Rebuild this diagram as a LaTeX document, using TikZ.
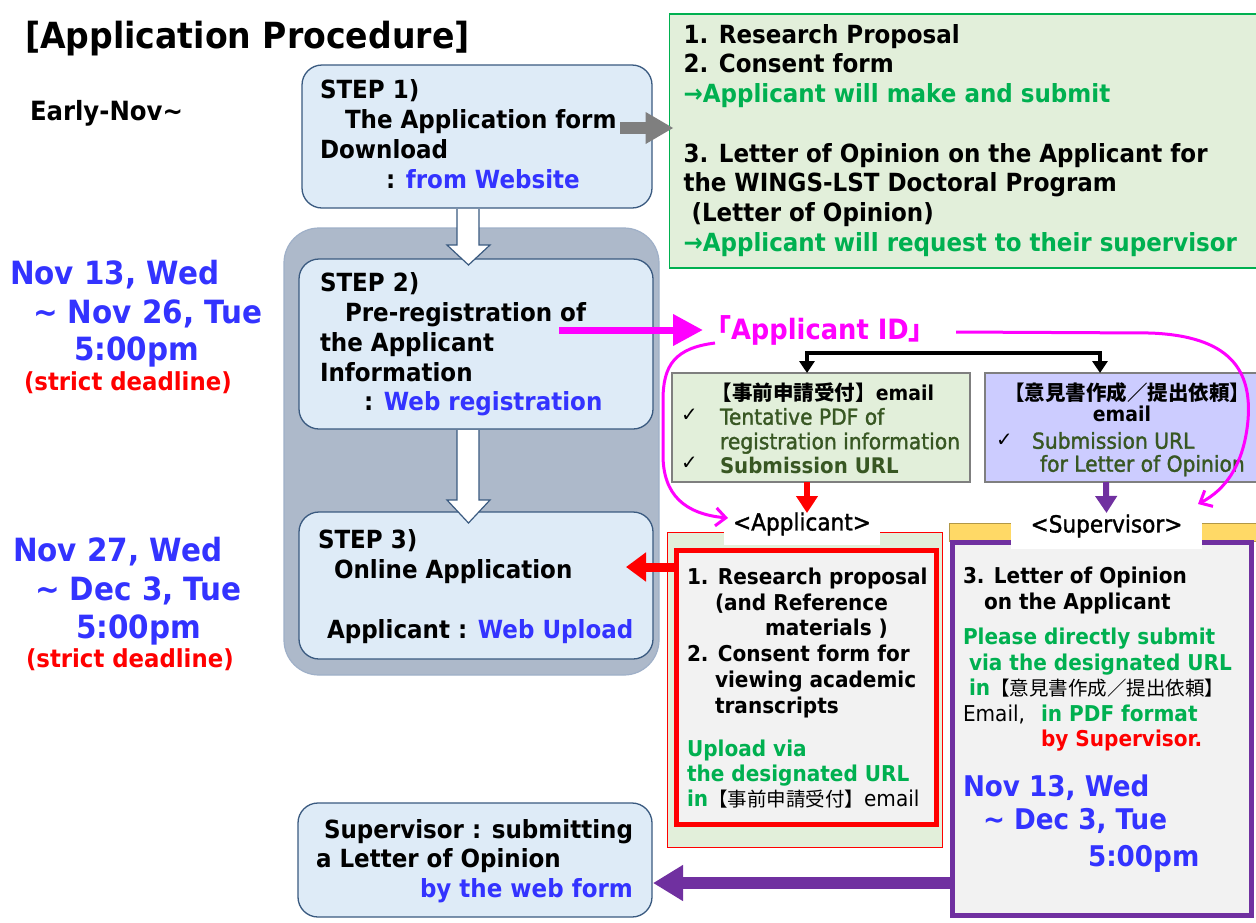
\documentclass[tikz,border=0pt]{standalone}
\usepackage{fontspec}
\setmainfont{DejaVu Sans}[FakeStretch=0.92]
\newfontfamily\cjk{Noto Sans CJK JP}
\newfontfamily\symf{DejaVu Sans}
\newfontfamily\medf{DejaVu Sans}[FakeStretch=0.92,FakeBold=1.5]
\usetikzlibrary{arrows.meta,calc}
\newcommand\myfs[2]{\fontsize{#1}{#2}\selectfont}
\definecolor{boxfill}{HTML}{DEEBF7}
\definecolor{boxline}{HTML}{3A5A80}
\definecolor{grpfill}{HTML}{ADB9CA}
\definecolor{grpline}{HTML}{9FB0C8}
\definecolor{lgreen}{HTML}{E2EFDA}
\definecolor{tgreen}{HTML}{00B050}
\definecolor{dgreen}{HTML}{385723}
\definecolor{tblue}{HTML}{3333FF}
\definecolor{tred}{HTML}{FF0000}
\definecolor{mag}{HTML}{FF00FF}
\definecolor{purp}{HTML}{7030A0}
\definecolor{lpurp}{HTML}{CCCCFF}
\definecolor{ylw}{HTML}{FFD966}
\definecolor{lgray}{HTML}{F2F2F2}
\definecolor{arrgray}{HTML}{7F7F7F}
\definecolor{emline}{HTML}{7F7F7F}
\tikzset{
  tx/.style={inner sep=0pt, outer sep=0pt, anchor=north west, align=left, font=\bfseries\myfs{25}{30}},
  stepbox/.style={draw=boxline, fill=boxfill, line width=1.3pt, rounded corners=20pt, anchor=north west, inner sep=0pt, outer sep=0pt},
  warrow/.style={fill=white, draw=boxline, line width=1.2pt, line join=miter},
  plainbox/.style={anchor=north west, inner sep=0pt, outer sep=0pt},
  datefont/.style={font=\bfseries\myfs{32}{39}, text=tblue},
  redfont/.style={font=\bfseries\myfs{24.8}{28}, text=tred},
  chk/.style={inner sep=0pt, outer sep=0pt, anchor=north west, font=\symf\myfs{19.8}{24}},
  emtxt/.style={tx, font=\medf\myfs{22}{24.5}, text=dgreen},
  emhead/.style={inner sep=0pt, outer sep=0pt, anchor=north, font=\bfseries\myfs{20.5}{24}},
  lab/.style={fill=white, inner sep=0pt, outer sep=0pt, font=\medf\myfs{23.5}{28}},
  magcurve/.style={mag, line width=3pt, -{Straight Barb[length=10pt,width=18pt]}}
}
\begin{document}
\begin{tikzpicture}[x=1pt,y=-1pt]
\fill[white] (0,0) rectangle (1256,922);
\useasboundingbox (0,0) rectangle (1256,922);

% title
\node[tx, font=\bfseries\myfs{36}{40}] (title) at (25,21) {[Application Procedure]};
\node[tx, font=\bfseries\myfs{26.5}{30}] (early) at (30,100) {Early-Nov\textasciitilde};

% dates left
\node[tx, datefont] (d1a) at (10,260) {Nov 13, Wed};
\node[tx, datefont] (d1b) at (33,300) {\textasciitilde\ Nov 26, Tue};
\node[tx, datefont] (d1c) at (74,337) {5:00pm};
\node[tx, redfont] (d1d) at (24,372) {(strict deadline)};
\node[tx, datefont] (d2a) at (13,537) {Nov 27, Wed};
\node[tx, datefont] (d2b) at (35,577) {\textasciitilde\ Dec 3, Tue};
\node[tx, datefont] (d2c) at (76,615) {5:00pm};
\node[tx, redfont] (d2d) at (26,649) {(strict deadline)};

% group and step boxes
\node[plainbox, draw=grpline, fill=grpfill, line width=1.2pt, rounded corners=35pt, minimum width=375pt, minimum height=447pt] (grp) at (284,228) {};
\node[stepbox, minimum width=350pt, minimum height=143pt] (s1) at (302,65) {};
\node[stepbox, minimum width=354pt, minimum height=170pt] (s2) at (299,259) {};
\node[stepbox, minimum width=354pt, minimum height=147pt] (s3) at (299,512) {};
\node[stepbox, minimum width=354pt, minimum height=114pt] (s4) at (298,803) {};

% white arrows
\filldraw[warrow] ($(s1.south)+(-20,1)$) -- ($(s1.south)+(-20,37)$) -- ($(s1.south)+(-30,37)$) -- ($(s1.south)+(-8.5,57)$) -- ($(s1.south)+(13,37)$) -- ($(s1.south)+(2,37)$) -- ($(s1.south)+(2,1)$);
\filldraw[warrow] ($(s2.south)+(-19,1)$) -- ($(s2.south)+(-19,71)$) -- ($(s2.south)+(-29,71)$) -- ($(s2.south)+(-7.5,94)$) -- ($(s2.south)+(14,71)$) -- ($(s2.south)+(3,71)$) -- ($(s2.south)+(3,1)$);

% step texts
\node[tx] (t1) at (320,80) {STEP 1)\\\hspace*{25pt}The Application form\\Download\\\hspace*{66pt}: \textcolor{tblue}{from Website}};
\node[tx, font=\bfseries\myfs{25}{29.75}] (t2) at (320,273) {STEP 2)\\\hspace*{25pt}Pre-registration of\\the Applicant\\Information\\\hspace*{44pt}: \textcolor{tblue}{Web registration}};
\node[tx] (t3) at (318,530) {STEP 3)\\\hspace*{16pt}Online Application};
\node[tx] (t3b) at (327,619) {Applicant : \textcolor{tblue}{Web Upload}};
\node[tx, font=\bfseries\myfs{25}{29.5}] (t4) at (316,819) {\hspace*{8pt}Supervisor : submitting\\a Letter of Opinion\\\hspace*{104pt}\textcolor{tblue}{by the web form}};

% green document box
\node[plainbox, draw=tgreen, fill=lgreen, line width=1.3pt, minimum width=600pt, minimum height=254pt] (gbox) at (669.5,14) {};
\node[tx, font=\bfseries\myfs{25}{29.7}] (g1) at (683.5,24) {1. Research Proposal\\2. Consent form\\\textcolor{tgreen}{→Applicant will make and submit}};
\node[tx, font=\bfseries\myfs{25}{29.7}] (g2) at (683.5,143) {3. Letter of Opinion on the Applicant for\\the WINGS-LST Doctoral Program\\\hspace*{8pt}(Letter of Opinion)\\\textcolor{tgreen}{→Applicant will request to their supervisor}};
\coordinate (gst) at ($(s1.north east)+(-32,63)$);
\draw[arrgray, line width=12pt, -{Triangle[length=28pt,width=30pt]}] (gst) -- ($(gbox.west |- gst)+(4,0)$);

% email boxes
\node[plainbox, draw=emline, fill=lgreen, line width=1.2pt, minimum width=298pt, minimum height=109pt] (em1) at (672,373) {};
\node[plainbox, draw=emline, fill=lpurp, line width=1.2pt, minimum width=290pt, minimum height=109pt] (em2) at (985,373) {};
\node[emhead] (e1h) at (823,383) {{\cjk 【事前申請受付】}email};
\node[chk] (c1) at (681,409) {✓};
\node[chk] (c2) at (681,457) {✓};
\node[emtxt] (e1t) at (720,408) {Tentative PDF of\\registration information\\{\rmfamily\bfseries\myfs{21.5}{24.5}Submission URL}};
\node[emhead] (e2h) at (1127,383) {{\cjk 【意見書作成／提出依頼】}};
\node[emhead] (e2e) at (1122,406) {email};
\node[chk] (c3) at (996,434) {✓};
\node[emtxt, font=\medf\myfs{22}{23}] (e2t) at (1032,432) {Submission URL\\\hspace*{8pt}for Letter of Opinion};
\draw[line width=3.8pt, {Triangle[length=12pt,width=15pt]}-{Triangle[length=12pt,width=15pt]}] ($(em1.north west)+(135,0)$) -- ++(0,-20) -| ($(em2.north west)+(115,0)$);

% applicant area
\node[plainbox, draw=tred, fill=lgreen, line width=1pt, minimum width=275pt, minimum height=315pt] (aout) at (667.5,532) {};
\node[plainbox, draw=tred, fill=lgray, line width=5pt, minimum width=260.5pt, minimum height=274pt] (ain) at (676,550.5) {};
% supervisor area
\node[plainbox, draw=ylw!70!black, fill=ylw, line width=0.8pt, minimum width=313pt, minimum height=18pt] (ystr) at (949,523) {};
\node[plainbox, draw=purp, fill=lgray, line width=5pt, minimum width=299pt, minimum height=373pt] (pbox) at (952.5,542.5) {};

% labels
\node[lab, minimum width=156pt, minimum height=42pt] (alab) at (802,524) {<Applicant>};
\node[lab, minimum width=191pt, minimum height=46pt] (slab) at (1106.5,526) {<Supervisor>};

% applicant texts
\node[tx, font=\bfseries\myfs{21.8}{25.7}] (a1) at (687,568) {1. Research proposal\\\hspace*{28pt}(and Reference\\\hspace*{78pt}materials )\\2. Consent form for\\\hspace*{28pt}viewing academic\\\hspace*{28pt}transcripts};
\node[tx, font=\bfseries\myfs{21.8}{25}, text=tgreen] (a2) at (687,740) {Upload via\\the designated URL\\in{\color{black}\mdseries{\cjk\myfs{19.5}{25}【事前申請受付】}email}};

% supervisor texts
\node[tx, font=\bfseries\myfs{21.8}{26}] (b1) at (963,567) {3. Letter of Opinion\\\hspace*{21pt}on the Applicant};
\node[tx, font=\bfseries\myfs{21.8}{25.5}, text=tgreen] (b2) at (963,628) {Please directly submit\\\hspace*{6pt}via the designated URL\\\hspace*{6pt}in{\color{black}\mdseries\cjk\myfs{19.5}{25}【意見書作成／提出依頼】}\\{\color{black}\mdseries Email,}\hspace*{16pt}in PDF format\\\hspace*{78pt}{\color{tred}by Supervisor.}};
\node[tx, font=\bfseries\myfs{28.5}{34}, text=tblue] (b3) at (963,775) {Nov 13, Wed};
\node[tx, font=\bfseries\myfs{28.5}{34}, text=tblue] (b4) at (983,808) {\textasciitilde\ Dec 3, Tue};
\node[tx, font=\bfseries\myfs{28.5}{34}, text=tblue] (b5) at (1088,845) {5:00pm};

% applicant ID
\node[inner sep=0pt, outer sep=0pt, anchor=west, text=mag, font=\bfseries\myfs{28}{32}] (aid) at (703,330) {{\cjk 「}Applicant ID{\cjk 」}};
\coordinate (mst) at (559,330);
\draw[mag, line width=7pt, -{Triangle[length=30pt,width=30pt]}] (mst) -- (aid.west);
\coordinate (ml0) at (715,343);
\coordinate (mr0) at (956,332);
\draw[magcurve] (ml0) .. controls (675,348) and (663,365) .. (663,400) -- (663,455) .. controls (663,495) and (685,514) .. ($(alab.west)+(4,-6)$);
\draw[magcurve] (mr0) -- (1150,333) .. controls (1230,336) and (1252,370) .. (1248,420) .. controls (1244,465) and (1225,490) .. ($(slab.north east)+(-4,1)$);

% coloured arrows
\draw[tred, line width=6pt, -{Triangle[length=17pt,width=21pt]}] ($(em1.south west)+(135,0)$) -- ($(alab.north)+(5,10)$);
\draw[purp, line width=6pt, -{Triangle[length=17pt,width=21pt]}] ($(em2.south west)+(121,0)$) -- ($(slab.north)+(0,10)$);
\draw[tred, line width=9pt, -{Triangle[length=20pt,width=28pt]}] ($(ain.north west)+(2,16.5)$) -- ($(s3.north east)+(-27,55)$);
\coordinate (ptip) at ($(s4.north east)+(1,80)$);
\draw[purp, line width=12pt, -{Triangle[length=30pt,width=34pt]}] (pbox.west |- ptip) -- (ptip);
\end{tikzpicture}
\end{document}
